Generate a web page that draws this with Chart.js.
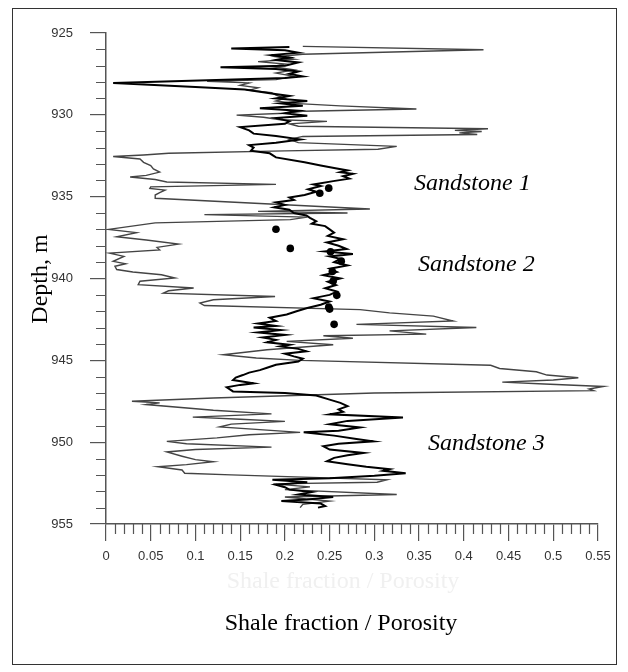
<!DOCTYPE html>
<html>
<head>
<meta charset="utf-8">
<script src="https://cdn.jsdelivr.net/npm/chart.js@4.4.1/dist/chart.umd.min.js"></script>
<style>
  html, body { margin: 0; padding: 0; background: #fff; }
  #wrap { position: relative; width: 628px; height: 672px; }
  #frame { position: absolute; left: 12px; top: 8px; width: 605px; height: 657px; border: 1.5px solid #333; box-sizing: border-box; pointer-events: none; }
  canvas { position: absolute; left: 0; top: 0; }
  .t { position: absolute; font-family: "Liberation Serif", "Times New Roman", serif; font-size: 24px; line-height: 1; white-space: nowrap; color: #000; }
  .ann { font-style: italic; transform: translateY(-50%); }
</style>
</head>
<body>
<div id="wrap">
  <canvas id="c" width="628" height="672"></canvas>
  <div id="frame"></div>
  <div class="t" id="ghost" style="left:343px; top:580px; transform:translate(-50%,-50%); color:#f0f0f0;">Shale fraction / Porosity</div>
  <div class="t" id="xtitle" style="left:341px; top:622px; transform:translate(-50%,-50%);">Shale fraction / Porosity</div>
  <div class="t" id="ytitle" style="left:39px; top:279px; transform:translate(-50%,-50%) rotate(-90deg);">Depth, m</div>
  <div class="t ann" style="left:414px; top:182px;">Sandstone 1</div>
  <div class="t ann" style="left:418px; top:263px;">Sandstone 2</div>
  <div class="t ann" style="left:428px; top:442px;">Sandstone 3</div>
</div>
<script>
// ---- Data ----
// Thin line (shale fraction)
const shaleDepth = [925.82,926.02,926.3,926.45,926.6,926.75,926.9,927.05,927.25,927.45,927.65,927.85,927.95,928.05,928.2,928.35,928.5,928.65,928.8,929.0,929.15,929.3,929.45,929.64,929.78,929.9,930.02,930.15,930.3,930.4,930.55,930.7,930.85,930.95,931.02,931.1,931.2,931.32,931.5,931.7,931.93,932.1,932.2,932.35,932.45,932.55,932.7,932.9,933.1,933.3,933.5,933.7,933.8,933.95,934.1,934.25,934.4,934.5,934.6,934.75,934.9,935.1,935.75,935.9,936.0,936.1,936.25,936.4,936.6,937.0,937.2,937.45,937.65,937.9,938.1,938.25,938.45,938.65,938.95,939.1,939.25,939.45,939.6,939.77,939.97,940.17,940.38,940.58,940.75,940.9,941.1,941.3,941.5,941.65,941.9,942.1,942.3,942.6,942.8,942.99,943.2,943.4,943.5,943.65,943.84,944.05,944.35,944.66,944.86,945.0,945.3,945.5,945.7,945.9,946.06,946.2,946.33,946.45,946.6,946.75,946.85,947.0,947.3,947.5,947.6,947.7,948.05,948.27,948.47,948.6,948.73,948.9,949.07,949.4,949.55,949.74,949.95,950.1,950.3,950.45,950.6,950.86,951.07,951.2,951.37,951.5,951.7,951.9,952.0,952.3,952.45,952.55,952.73,952.9,953.2,953.35,953.6,953.8,954.0];
const shaleValue = [0.22,0.422,0.22,0.19,0.21,0.17,0.20,0.185,0.21,0.19,0.21,0.19,0.113,0.16,0.15,0.17,0.16,0.185,0.19,0.2,0.19,0.21,0.262,0.347,0.22,0.2,0.146,0.176,0.195,0.247,0.205,0.215,0.427,0.39,0.42,0.395,0.415,0.22,0.205,0.215,0.325,0.304,0.2,0.07,0.042,0.008,0.038,0.042,0.05,0.053,0.06,0.045,0.027,0.055,0.068,0.19,0.05,0.049,0.066,0.06,0.055,0.055,0.295,0.17,0.27,0.11,0.225,0.206,0.055,0.003,0.034,0.012,0.045,0.081,0.057,0.06,0.004,0.02,0.008,0.022,0.01,0.012,0.03,0.062,0.077,0.038,0.036,0.098,0.07,0.064,0.189,0.12,0.105,0.11,0.284,0.317,0.366,0.388,0.28,0.414,0.317,0.358,0.243,0.276,0.202,0.254,0.18,0.131,0.168,0.217,0.43,0.44,0.481,0.493,0.528,0.50,0.443,0.49,0.556,0.54,0.545,0.30,0.12,0.029,0.06,0.045,0.12,0.185,0.097,0.15,0.2,0.14,0.127,0.217,0.16,0.124,0.068,0.09,0.185,0.10,0.068,0.085,0.1,0.12,0.09,0.058,0.085,0.088,0.14,0.314,0.303,0.187,0.228,0.2,0.325,0.2,0.25,0.22,0.217];

// Thick line (porosity log)
const porDepth = [925.85,925.95,926.05,926.2,926.35,926.5,926.65,926.8,927.0,927.1,927.2,927.35,927.5,927.65,927.75,928.05,928.3,928.45,928.7,928.85,929.0,929.15,929.3,929.45,929.6,929.75,929.9,930.05,930.2,930.4,930.55,930.75,930.95,931.15,931.3,931.5,931.7,931.85,932.0,932.2,932.35,932.6,932.9,933.1,933.25,933.4,933.5,933.6,933.75,933.9,934.05,934.25,934.35,934.55,934.7,934.9,935.05,935.2,935.35,935.5,935.65,935.8,936.0,936.15,936.3,936.5,936.65,936.8,937.0,937.2,937.4,937.6,937.8,938.0,938.2,938.35,938.5,938.65,938.8,939.0,939.2,939.4,939.6,939.8,940.0,940.2,940.4,940.6,940.8,941.0,941.2,941.4,941.6,941.8,942.0,942.2,942.4,942.6,942.75,942.9,943.0,943.15,943.3,943.45,943.6,943.75,943.9,944.05,944.15,944.3,944.45,944.6,944.76,944.9,945.07,945.27,945.45,945.6,945.75,945.9,946.05,946.2,946.4,946.5,946.65,946.9,947.0,947.15,947.4,947.6,947.8,948.0,948.15,948.3,948.5,948.7,948.9,949.1,949.3,949.4,949.6,949.8,949.95,950.1,950.25,950.45,950.66,950.8,950.96,951.17,951.35,951.5,951.65,951.75,951.9,952.05,952.2,952.3,952.45,952.6,952.75,952.9,953.05,953.2,953.35,953.5,953.6,953.75,953.9,954.0];
const porValue = [0.205,0.14,0.20,0.215,0.185,0.205,0.19,0.215,0.20,0.128,0.19,0.215,0.205,0.22,0.20,0.008,0.10,0.155,0.185,0.205,0.19,0.225,0.195,0.22,0.172,0.215,0.20,0.225,0.19,0.205,0.20,0.15,0.16,0.165,0.19,0.217,0.19,0.16,0.165,0.162,0.183,0.19,0.222,0.24,0.255,0.27,0.262,0.276,0.265,0.272,0.254,0.232,0.24,0.226,0.235,0.222,0.205,0.21,0.19,0.20,0.188,0.205,0.21,0.224,0.228,0.235,0.23,0.245,0.25,0.255,0.248,0.265,0.247,0.26,0.269,0.245,0.276,0.25,0.262,0.255,0.27,0.25,0.258,0.243,0.262,0.248,0.257,0.245,0.258,0.25,0.232,0.25,0.24,0.225,0.213,0.202,0.183,0.19,0.17,0.19,0.165,0.195,0.17,0.2,0.175,0.19,0.18,0.205,0.195,0.215,0.224,0.2,0.21,0.22,0.215,0.19,0.18,0.172,0.16,0.153,0.145,0.142,0.165,0.15,0.135,0.142,0.20,0.235,0.25,0.262,0.27,0.26,0.265,0.25,0.332,0.27,0.25,0.284,0.26,0.221,0.255,0.28,0.299,0.26,0.243,0.25,0.288,0.27,0.255,0.247,0.27,0.291,0.317,0.31,0.335,0.30,0.25,0.186,0.225,0.19,0.2,0.205,0.23,0.215,0.254,0.225,0.196,0.24,0.245,0.237];

// Core points (dots)
const coreDepth = [934.48,934.79,936.99,938.16,938.37,938.94,939.57,940.15,941.03,941.75,941.87,942.8];
const coreValue = [0.249,0.239,0.19,0.206,0.251,0.263,0.253,0.254,0.258,0.249,0.25,0.255];

// Axes
const xTicks = [0,0.05,0.1,0.15,0.2,0.25,0.3,0.35,0.4,0.45,0.5,0.55];
const yTicks = [925,930,935,940,945,950,955];

// ---- Build chart ----
const toPts = (d, v) => d.map((y, i) => ({ x: v[i], y: y }));
const AXIS = '#555';

const minorTicks = {
  id: 'minorTicks',
  afterDraw(chart) {
    const { ctx, chartArea, scales } = chart;
    ctx.save();
    ctx.strokeStyle = AXIS;
    ctx.lineWidth = 1.2;
    ctx.beginPath();
    for (let i = 1; i < 55; i++) {
      if (i % 5 === 0) continue;
      const px = Math.round(scales.x.getPixelForValue(i / 100)) + 0.5;
      ctx.moveTo(px, chartArea.bottom);
      ctx.lineTo(px, chartArea.bottom + 10);
    }
    for (let d = 926; d < 955; d++) {
      if (d % 5 === 0) continue;
      const py = Math.round(scales.y.getPixelForValue(d)) + 0.5;
      ctx.moveTo(chartArea.left - 10, py);
      ctx.lineTo(chartArea.left, py);
    }
    ctx.stroke();
    ctx.restore();
  }
};

new Chart(document.getElementById('c'), {
  type: 'scatter',
  data: {
    datasets: [
      { label: 'Core', data: toPts(coreDepth, coreValue), showLine: false, pointRadius: 3.8, pointBackgroundColor: '#000', pointBorderWidth: 0, clip: false },
      { label: 'Porosity', data: toPts(porDepth, porValue), showLine: true, borderColor: '#000', borderWidth: 2.0, pointRadius: 0, tension: 0, clip: false },
      { label: 'Shale fraction', data: toPts(shaleDepth, shaleValue), showLine: true, borderColor: '#444', borderWidth: 1.4, pointRadius: 0, tension: 0, clip: false }
    ]
  },
  options: {
    responsive: false,
    animation: false,
    devicePixelRatio: 1,
    layout: { padding: { top: 33, right: 30, left: 0, bottom: 0 } },
    plugins: { legend: { display: false }, tooltip: { enabled: false } },
    scales: {
      x: {
        type: 'linear', min: 0, max: 0.55,
        afterBuildTicks: s => { s.ticks = xTicks.map(v => ({ value: v })); },
        afterFit: s => { s.height = 672 - 524; },
        ticks: { callback: v => String(+v.toFixed(2)), color: '#333', font: { family: 'Liberation Sans, Arial, sans-serif', size: 13 }, padding: 8, maxRotation: 0, autoSkip: false },
        grid: { drawOnChartArea: false, drawTicks: true, tickLength: 17, color: AXIS, lineWidth: 1.2 },
        border: { display: true, color: AXIS, width: 1.5 }
      },
      y: {
        type: 'linear', min: 925, max: 955, reverse: true,
        afterBuildTicks: s => { s.ticks = yTicks.map(v => ({ value: v })); },
        afterFit: s => { s.width = 106; },
        ticks: { color: '#333', font: { family: 'Liberation Sans, Arial, sans-serif', size: 13 }, padding: 17, autoSkip: false },
        grid: { drawOnChartArea: false, drawTicks: true, tickLength: 16, color: AXIS, lineWidth: 1.2 },
        border: { display: true, color: AXIS, width: 1.5 }
      }
    }
  },
  plugins: [minorTicks]
});
</script>
</body>
</html>
